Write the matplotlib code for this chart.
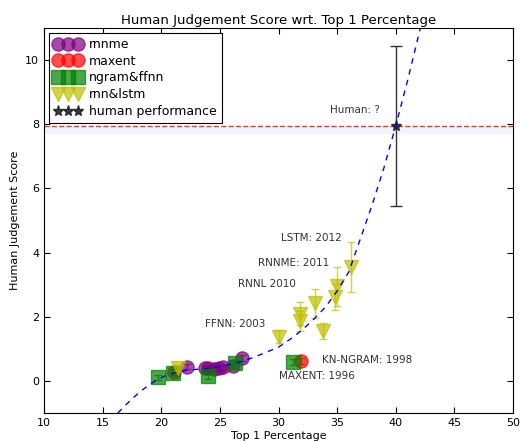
import numpy as np
import matplotlib
matplotlib.use('Agg')
import matplotlib.pyplot as plt

# 数据
rnnme_x = [22.2, 23.7, 24.0, 24.5, 24.9, 25.3, 26.1, 26.9]
rnnme_y = [0.44, 0.40, 0.40, 0.38, 0.40, 0.42, 0.47, 0.72]
rnnme_err = [0.08, 0.08, 0.08, 0.08, 0.08, 0.08, 0.08, 0.1]

maxent_x = [21.1, 31.9]
maxent_y = [0.28, 0.62]
maxent_err = [0.08, 0.1]

ngram_x = [19.7, 21.0, 24.0, 26.3, 31.2]
ngram_y = [0.11, 0.25, 0.15, 0.56, 0.59]
ngram_err = [0.08, 0.08, 0.1, 0.1, 0.1]

rnn_x = [21.4, 30.0, 31.8, 31.8, 33.1, 33.8, 34.8, 35.0, 36.2]
rnn_y = [0.40, 1.38, 2.10, 1.87, 2.42, 1.55, 2.62, 2.95, 3.55]
rnn_err = [0.1, 0.2, 0.37, 0.3, 0.45, 0.25, 0.4, 0.6, 0.78]

human_x = [40.0]
human_y = [7.95]
human_err = [2.5]

# 拟合曲线（读取的点）
fit_x = [16.3, 17.0, 17.5, 18.0, 18.5, 19.0, 19.6, 20.3, 21.0, 22.0, 23.0, 24.0, 25.0, 26.0,
         27.0, 28.0, 29.0, 30.0, 31.0, 32.0, 33.0, 34.0, 35.0, 36.0, 37.0, 38.0, 39.0, 40.0,
         41.0, 42.1]
fit_y = [-1.0, -0.74, -0.56, -0.40, -0.25, -0.12, 0.03, 0.15, 0.24, 0.32, 0.36, 0.39, 0.44,
         0.52, 0.62, 0.75, 0.90, 1.05, 1.30, 1.58, 1.92, 2.30, 2.80, 3.40, 4.45, 5.50, 6.65,
         7.95, 9.35, 11.0]

labels = {
    'Human: ?': (34.4, 8.45),
    'LSTM: 2012': (30.2, 4.46),
    'RNNME: 2011': (28.25, 3.68),
    'RNNL 2010': (26.55, 3.03),
    'FFNN: 2003': (23.7, 1.76),
    'KN-NGRAM: 1998': (33.7, 0.66),
    'MAXENT: 1996': (30.0, 0.16),
}

fig = plt.figure(figsize=(5.21, 4.41), dpi=100)
ax = fig.add_axes([44/521, 28/441, 469/521, 385/441])

ax.axhspan(7.7, 7.95, color='#cfe6f5', alpha=0.35, lw=0)
ax.axhline(7.95, color='red', ls='--', lw=1, alpha=0.8)

groups = [
    (rnnme_x, rnnme_y, rnnme_err, 'o', 'purple', 'rnnme'),
    (maxent_x, maxent_y, maxent_err, 'o', 'red', 'maxent'),
    (ngram_x, ngram_y, ngram_err, 's', 'green', 'ngram&ffnn'),
    (rnn_x, rnn_y, rnn_err, 'v', 'y', 'rnn&lstm'),
]
for x, y, e, m, c, lab in groups:
    ax.errorbar(x, y, yerr=e, fmt='none', ecolor=c, alpha=0.7, capsize=3, lw=1)
    ax.plot(x, y, m, color=c, mec=c, ms=9.5, alpha=0.7, label=lab)

ax.errorbar(human_x, human_y, yerr=human_err, fmt='none', ecolor='#333333', capsize=4, lw=1)
ax.plot(human_x, human_y, '*', color='#222222', ms=8, alpha=0.9, label='human performance')

ax.plot(fit_x, fit_y, ls=(0, (4, 4)), color='blue', lw=1)

for t, (x, y) in labels.items():
    ax.text(x, y, t, fontsize=7.5, color='#333333', va='center', ha='left')

ax.set_xlim(10, 50)
ax.set_ylim(-1, 11)
ax.set_xticks(range(10, 51, 5))
ax.set_yticks(range(0, 11, 2))
ax.tick_params(direction='in', top=True, right=True, labelsize=8, length=4)
ax.set_title('Human Judgement Score wrt. Top 1 Percentage', fontsize=9.5, pad=3)
ax.set_xlabel('Top 1 Percentage', fontsize=8, labelpad=2)
ax.set_ylabel('Human Judgement Score', fontsize=8)

leg = ax.legend(loc='upper left', numpoints=3, fontsize=9, fancybox=False,
                edgecolor='black', framealpha=1, handletextpad=0.6, handlelength=2.2,
                borderaxespad=0.4, labelspacing=0.3)
leg.get_frame().set_linewidth(0.8)

fig.savefig('out.png', dpi=100)
